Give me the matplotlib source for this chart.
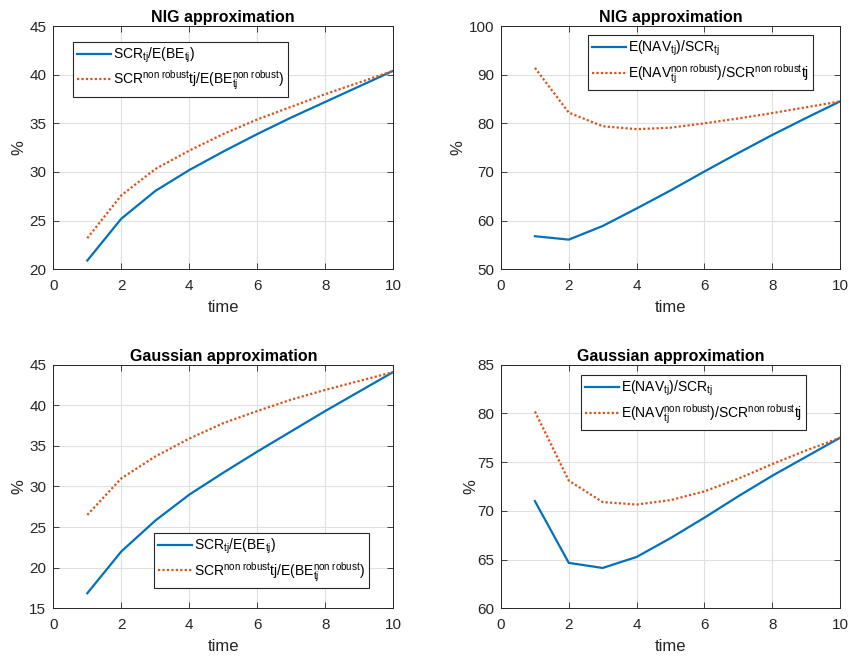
import matplotlib
matplotlib.use("Agg")
import matplotlib.pyplot as plt

plt.rcParams['font.family'] = ['Liberation Sans', 'DejaVu Sans']
plt.rcParams['mathtext.fontset'] = 'custom'
plt.rcParams['mathtext.rm'] = 'Liberation Sans'
plt.rcParams['mathtext.it'] = 'Liberation Sans'
plt.rcParams['mathtext.bf'] = 'Liberation Sans:bold'

time = [1, 2, 3, 4, 5, 6, 7, 8, 9, 10]

nig_scr = [20.9, 25.2, 28.05, 30.2, 32.1, 33.9, 35.6, 37.2, 38.8, 40.4]
nig_scr_nr = [23.2, 27.6, 30.3, 32.2, 33.9, 35.4, 36.7, 38.0, 39.2, 40.4]
nig_nav = [56.8, 56.1, 58.9, 62.5, 66.2, 70.1, 73.9, 77.6, 81.1, 84.5]
nig_nav_nr = [91.4, 82.2, 79.4, 78.8, 79.1, 80.0, 81.0, 82.1, 83.3, 84.5]

gau_scr = [16.85, 22.0, 25.8, 29.0, 31.7, 34.3, 36.8, 39.3, 41.7, 44.1]
gau_scr_nr = [26.5, 31.0, 33.7, 35.9, 37.8, 39.3, 40.7, 41.9, 43.0, 44.1]
gau_nav = [71.0, 64.66, 64.14, 65.27, 67.2, 69.3, 71.5, 73.6, 75.55, 77.5]
gau_nav_nr = [80.2, 73.1, 70.9, 70.65, 71.1, 72.0, 73.3, 74.8, 76.2, 77.5]

titles = ["NIG approximation", "NIG approximation",
          "Gaussian approximation", "Gaussian approximation"]
lab_scr = [r"SCR$_{\mathrm{tj}}$/E(BE$_{\mathrm{tj}}$)",
           r"SCR$^{\mathrm{non\ robust}}$tj/E(BE$_{\mathrm{tj}}^{\mathrm{non\ robust}}$)"]
lab_nav = [r"E(NAV$_{\mathrm{tj}}$)/SCR$_{\mathrm{tj}}$",
           r"E(NAV$_{\mathrm{tj}}^{\mathrm{non\ robust}}$)/SCR$^{\mathrm{non\ robust}}$tj"]

xticks = [0, 2, 4, 6, 8, 10]
yticks = [[20, 25, 30, 35, 40, 45], [50, 60, 70, 80, 90, 100],
          [15, 20, 25, 30, 35, 40, 45], [60, 65, 70, 75, 80, 85]]

BLUE = "#0072BD"
ORANGE = "#D95319"

fig = plt.figure(figsize=(8.48, 6.57), dpi=100)
W, H = 848, 657
boxes = [(53.3, 26, 393.3, 269.3), (501, 26, 840, 269.3),
         (53.3, 364.7, 393.3, 608.3), (501, 364.7, 840, 608.3)]
leg_anchor = [(0.0588, 0.9355), (0.257, 0.963), (0.297, 0.310), (0.236, 0.958)]
ylab_pad = [2, 2, 2, -1]
series = [(nig_scr, nig_scr_nr, lab_scr), (nig_nav, nig_nav_nr, lab_nav),
          (gau_scr, gau_scr_nr, lab_scr), (gau_nav, gau_nav_nr, lab_nav)]

for i, (b, (s1, s2, labs)) in enumerate(zip(boxes, series)):
    l, t, r, bt = b
    ax = fig.add_axes([l / W, 1 - bt / H, (r - l) / W, (bt - t) / H])
    ax.plot(time, s1, color=BLUE, lw=1.6, label=labs[0])
    ax.plot(time, s2, color=ORANGE, lw=1.6, ls=(0, (1, 1)), label=labs[1])
    ax.set_xlim(0, 10)
    ax.set_ylim(yticks[i][0], yticks[i][-1])
    ax.set_xticks(xticks)
    ax.set_yticks(yticks[i])
    ax.tick_params(direction='in', top=True, right=True, labelsize=11,
                   length=4, width=0.6, colors='#262626')
    ax.tick_params(axis='x', pad=7)
    ax.tick_params(axis='y', pad=5)
    ax.grid(True, color='#e0e0e0', lw=0.8)
    ax.set_axisbelow(True)
    for sp in ax.spines.values():
        sp.set_color('#262626')
        sp.set_linewidth(0.7)
    ax.set_title(titles[i], fontsize=11.5, fontweight='bold', pad=3)
    ax.set_xlabel("time", fontsize=12, color='#262626', labelpad=5)
    ax.set_ylabel("%", fontsize=12, color='#262626', labelpad=ylab_pad[i])
    leg = ax.legend(loc='upper left', bbox_to_anchor=leg_anchor[i],
                    borderaxespad=0, fancybox=False, framealpha=1,
                    edgecolor='#262626', fontsize=10, handlelength=2.4,
                    handletextpad=0.15, borderpad=0.3, labelspacing=0.25)
    leg.get_frame().set_linewidth(0.8)

fig.savefig("out.png", dpi=100)
